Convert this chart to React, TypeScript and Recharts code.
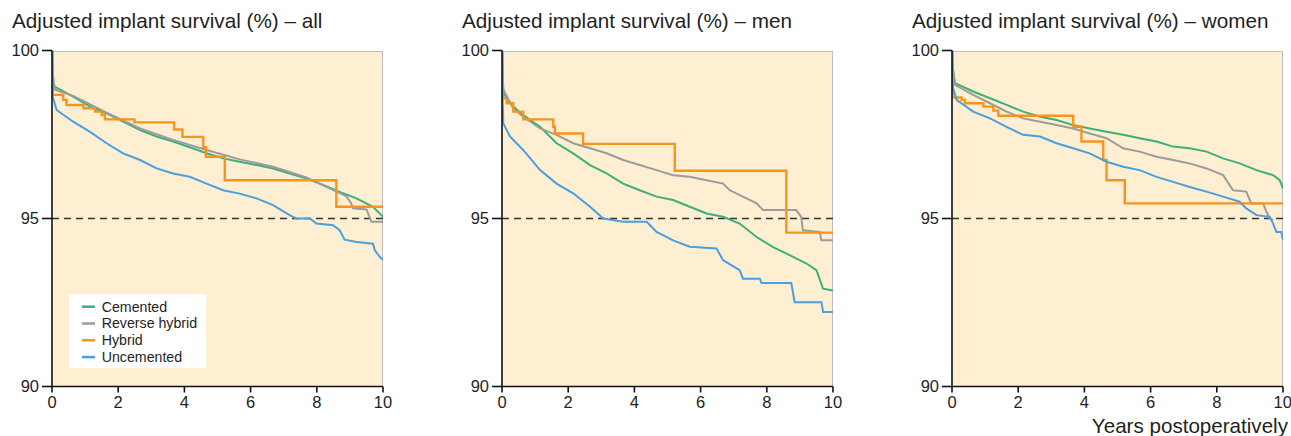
import React from 'react';
import { LineChart, Line, XAxis, YAxis, ReferenceLine } from 'recharts';

type P = { x: number; y: number };

const xTicks = [0, 2, 4, 6, 8, 10];
const yTicks = [90, 95, 100];
const titles = [
  'Adjusted implant survival (%) – all',
  'Adjusted implant survival (%) – men',
  'Adjusted implant survival (%) – women',
];
const seriesNames = ['Cemented', 'Reverse hybrid', 'Hybrid', 'Uncemented'];
const seriesColors = ['#3DB07A', '#9C9C9C', '#F7941D', '#4A9FDD'];
const xLabel = 'Years postoperatively';

// ---------- all ----------
const allCemented: P[] = [
  { x: 0, y: 100 }, { x: 0.02, y: 99.4 }, { x: 0.05, y: 99.0 }, { x: 0.09, y: 98.92 },
  { x: 0.64, y: 98.63 }, { x: 1.15, y: 98.33 }, { x: 1.65, y: 98.13 }, { x: 2.15, y: 97.88 },
  { x: 2.66, y: 97.63 }, { x: 3.16, y: 97.44 }, { x: 3.66, y: 97.29 }, { x: 4.16, y: 97.12 },
  { x: 4.67, y: 96.94 }, { x: 5.17, y: 96.79 }, { x: 5.67, y: 96.69 }, { x: 6.18, y: 96.59 },
  { x: 6.68, y: 96.49 }, { x: 7.18, y: 96.34 }, { x: 7.69, y: 96.19 }, { x: 8.19, y: 96.0 },
  { x: 8.69, y: 95.79 }, { x: 9.2, y: 95.6 }, { x: 9.7, y: 95.35 }, { x: 10, y: 95.05 },
];
const allReverse: P[] = [
  { x: 0, y: 100 }, { x: 0.02, y: 99.4 }, { x: 0.05, y: 99.0 }, { x: 0.09, y: 98.83 },
  { x: 0.64, y: 98.65 }, { x: 1.65, y: 98.15 }, { x: 2.66, y: 97.68 }, { x: 3.66, y: 97.34 },
  { x: 4.67, y: 97.04 }, { x: 5.67, y: 96.76 }, { x: 6.68, y: 96.54 }, { x: 7.69, y: 96.22 },
  { x: 8.29, y: 95.94 }, { x: 8.89, y: 95.67 }, { x: 9.04, y: 95.45 }, { x: 9.09, y: 95.3 },
  { x: 9.5, y: 95.27 }, { x: 9.65, y: 94.9 }, { x: 10, y: 94.9 },
];
const allHybrid: P[] = [
  { x: 0, y: 100 }, { x: 0.02, y: 98.68 }, { x: 0.34, y: 98.53 }, { x: 0.44, y: 98.38 },
  { x: 0.95, y: 98.28 }, { x: 1.3, y: 98.18 }, { x: 1.5, y: 98.08 }, { x: 1.6, y: 97.95 },
  { x: 2.49, y: 97.86 }, { x: 3.69, y: 97.65 }, { x: 3.94, y: 97.43 }, { x: 4.57, y: 97.12 },
  { x: 4.65, y: 96.84 }, { x: 5.22, y: 96.14 }, { x: 8.59, y: 95.35 }, { x: 10, y: 95.35 },
];
const allUncemented: P[] = [
  { x: 0, y: 100 }, { x: 0.02, y: 98.63 }, { x: 0.14, y: 98.23 }, { x: 0.64, y: 97.88 },
  { x: 1.15, y: 97.58 }, { x: 1.65, y: 97.24 }, { x: 2.15, y: 96.94 }, { x: 2.66, y: 96.74 },
  { x: 3.16, y: 96.49 }, { x: 3.66, y: 96.34 }, { x: 4.16, y: 96.24 }, { x: 4.67, y: 96.04 },
  { x: 5.17, y: 95.84 }, { x: 5.67, y: 95.74 }, { x: 6.18, y: 95.6 }, { x: 6.68, y: 95.4 },
  { x: 7.18, y: 95.1 }, { x: 7.38, y: 95.0 }, { x: 7.79, y: 95.0 }, { x: 7.99, y: 94.85 },
  { x: 8.49, y: 94.8 }, { x: 8.69, y: 94.65 }, { x: 8.84, y: 94.37 }, { x: 9.2, y: 94.3 },
  { x: 9.7, y: 94.25 }, { x: 9.75, y: 94.06 }, { x: 9.9, y: 93.86 }, { x: 10, y: 93.76 },
];

// ---------- men ----------
const menCemented: P[] = [
  { x: 0, y: 100 }, { x: 0.02, y: 99.3 }, { x: 0.04, y: 98.73 }, { x: 0.34, y: 98.33 },
  { x: 0.64, y: 98.08 }, { x: 1.15, y: 97.73 }, { x: 1.65, y: 97.24 }, { x: 2.15, y: 96.94 },
  { x: 2.66, y: 96.59 }, { x: 3.16, y: 96.34 }, { x: 3.66, y: 96.04 }, { x: 4.16, y: 95.84 },
  { x: 4.67, y: 95.65 }, { x: 5.17, y: 95.55 }, { x: 5.67, y: 95.35 }, { x: 6.18, y: 95.15 },
  { x: 6.68, y: 95.05 }, { x: 7.18, y: 94.85 }, { x: 7.69, y: 94.45 }, { x: 8.19, y: 94.15 },
  { x: 8.69, y: 93.91 }, { x: 9.2, y: 93.66 }, { x: 9.5, y: 93.46 }, { x: 9.7, y: 92.91 },
  { x: 10, y: 92.86 },
];
const menReverse: P[] = [
  { x: 0, y: 100 }, { x: 0.02, y: 99.3 }, { x: 0.04, y: 98.83 }, { x: 0.34, y: 98.28 },
  { x: 0.64, y: 98.03 }, { x: 1.15, y: 97.68 }, { x: 1.65, y: 97.49 }, { x: 2.15, y: 97.24 },
  { x: 2.66, y: 97.09 }, { x: 3.16, y: 96.94 }, { x: 3.66, y: 96.74 }, { x: 4.16, y: 96.59 },
  { x: 4.67, y: 96.44 }, { x: 5.17, y: 96.29 }, { x: 5.67, y: 96.24 }, { x: 6.18, y: 96.14 },
  { x: 6.68, y: 96.04 }, { x: 6.88, y: 95.84 }, { x: 7.28, y: 95.65 }, { x: 7.69, y: 95.45 },
  { x: 7.89, y: 95.25 }, { x: 8.89, y: 95.25 }, { x: 9.04, y: 95.05 }, { x: 9.09, y: 94.65 },
  { x: 9.6, y: 94.6 }, { x: 9.65, y: 94.35 }, { x: 10, y: 94.35 },
];
const menHybrid: P[] = [
  { x: 0, y: 100 }, { x: 0.02, y: 98.58 }, { x: 0.14, y: 98.43 }, { x: 0.34, y: 98.18 },
  { x: 0.64, y: 97.95 }, { x: 1.55, y: 97.73 }, { x: 1.6, y: 97.53 }, { x: 2.45, y: 97.22 },
  { x: 5.22, y: 96.42 }, { x: 8.59, y: 94.58 }, { x: 10, y: 94.58 },
];
const menUncemented: P[] = [
  { x: 0, y: 100 }, { x: 0.02, y: 98.53 }, { x: 0.04, y: 97.83 }, { x: 0.24, y: 97.44 },
  { x: 0.64, y: 97.04 }, { x: 1.15, y: 96.44 }, { x: 1.65, y: 96.04 }, { x: 2.15, y: 95.75 },
  { x: 2.66, y: 95.35 }, { x: 3.06, y: 95.0 }, { x: 3.66, y: 94.9 }, { x: 4.37, y: 94.9 },
  { x: 4.67, y: 94.6 }, { x: 5.17, y: 94.35 }, { x: 5.67, y: 94.16 }, { x: 6.48, y: 94.11 },
  { x: 6.68, y: 93.76 }, { x: 7.18, y: 93.46 }, { x: 7.28, y: 93.21 }, { x: 7.79, y: 93.21 },
  { x: 7.84, y: 93.08 }, { x: 8.74, y: 93.08 }, { x: 8.84, y: 92.51 }, { x: 9.65, y: 92.51 },
  { x: 9.7, y: 92.22 }, { x: 10, y: 92.22 },
];

// ---------- women ----------
const womenCemented: P[] = [
  { x: 0, y: 100 }, { x: 0.02, y: 99.5 }, { x: 0.09, y: 99.03 }, { x: 0.64, y: 98.78 },
  { x: 1.15, y: 98.58 }, { x: 1.65, y: 98.38 }, { x: 2.15, y: 98.18 }, { x: 2.66, y: 98.03 },
  { x: 3.16, y: 97.93 }, { x: 3.66, y: 97.78 }, { x: 4.16, y: 97.68 }, { x: 4.67, y: 97.58 },
  { x: 5.17, y: 97.49 }, { x: 5.67, y: 97.39 }, { x: 6.18, y: 97.29 }, { x: 6.68, y: 97.14 },
  { x: 7.18, y: 97.09 }, { x: 7.69, y: 96.99 }, { x: 8.19, y: 96.79 }, { x: 8.69, y: 96.64 },
  { x: 9.2, y: 96.44 }, { x: 9.7, y: 96.29 }, { x: 9.9, y: 96.14 }, { x: 10, y: 95.89 },
];
const womenReverse: P[] = [
  { x: 0, y: 100 }, { x: 0.02, y: 99.5 }, { x: 0.09, y: 98.98 }, { x: 0.64, y: 98.68 },
  { x: 1.15, y: 98.43 }, { x: 1.65, y: 98.18 }, { x: 2.15, y: 97.98 }, { x: 2.66, y: 97.88 },
  { x: 3.16, y: 97.78 }, { x: 3.66, y: 97.68 }, { x: 4.16, y: 97.53 }, { x: 4.67, y: 97.39 },
  { x: 5.17, y: 97.09 }, { x: 5.67, y: 96.99 }, { x: 6.18, y: 96.84 }, { x: 6.68, y: 96.74 },
  { x: 7.18, y: 96.64 }, { x: 7.69, y: 96.49 }, { x: 8.19, y: 96.29 }, { x: 8.49, y: 95.84 },
  { x: 8.89, y: 95.8 }, { x: 9.04, y: 95.45 }, { x: 9.4, y: 95.45 }, { x: 9.5, y: 95.2 },
  { x: 9.6, y: 95.0 }, { x: 9.7, y: 94.95 },
];
const womenHybrid: P[] = [
  { x: 0, y: 100 }, { x: 0.02, y: 98.6 }, { x: 0.29, y: 98.53 }, { x: 0.39, y: 98.43 },
  { x: 0.95, y: 98.33 }, { x: 1.25, y: 98.21 }, { x: 1.4, y: 98.06 }, { x: 3.66, y: 97.73 },
  { x: 3.91, y: 97.29 }, { x: 4.57, y: 96.74 }, { x: 4.67, y: 96.14 }, { x: 5.22, y: 95.45 },
  { x: 10, y: 95.45 },
];
const womenUncemented: P[] = [
  { x: 0, y: 100 }, { x: 0.02, y: 98.93 }, { x: 0.14, y: 98.53 }, { x: 0.64, y: 98.18 },
  { x: 1.15, y: 97.98 }, { x: 1.65, y: 97.73 }, { x: 2.15, y: 97.49 }, { x: 2.66, y: 97.44 },
  { x: 3.16, y: 97.24 }, { x: 3.66, y: 97.09 }, { x: 4.16, y: 96.94 }, { x: 4.67, y: 96.69 },
  { x: 5.17, y: 96.54 }, { x: 5.67, y: 96.44 }, { x: 6.18, y: 96.24 }, { x: 6.68, y: 96.09 },
  { x: 7.18, y: 95.94 }, { x: 7.69, y: 95.8 }, { x: 8.19, y: 95.65 }, { x: 8.69, y: 95.5 },
  { x: 8.89, y: 95.3 }, { x: 9.2, y: 95.1 }, { x: 9.6, y: 95.05 }, { x: 9.7, y: 94.85 },
  { x: 9.8, y: 94.6 }, { x: 9.95, y: 94.6 }, { x: 10, y: 94.35 },
];

const panels = [
  { title: titles[0], series: [allCemented, allReverse, allHybrid, allUncemented] },
  { title: titles[1], series: [menCemented, menReverse, menHybrid, menUncemented] },
  { title: titles[2], series: [womenCemented, womenReverse, womenHybrid, womenUncemented] },
];

const FONT = '"Liberation Sans", Arial, Helvetica, sans-serif';
const TEXT = '#231F20';
const BG = '#FEEFD3';

function Panel({ left, width, series }: { left: number; width: number; series: P[][] }) {
  return (
    <div style={{ position: 'absolute', left, top: 0 }}>
      <LineChart
        width={width}
        height={436}
        margin={{ top: 50.5, right: width - 383, bottom: 19.5, left: 12 }}
        style={{ fontFamily: FONT }}
      >
        <XAxis
          type="number"
          dataKey="x"
          domain={[0, 10]}
          ticks={xTicks}
          allowDataOverflow
          height={30}
          tickSize={6}
          tickMargin={4}
          axisLine={{ stroke: '#111', strokeWidth: 1.6 }}
          tickLine={{ stroke: '#111', strokeWidth: 1.6 }}
          tick={{ fill: TEXT, fontSize: 16.5 }}
        />
        <YAxis
          type="number"
          domain={[90, 100]}
          ticks={yTicks}
          allowDataOverflow
          width={40}
          tickSize={10}
          tickMargin={3}
          axisLine={{ stroke: '#111', strokeWidth: 1.6 }}
          tickLine={{ stroke: '#111', strokeWidth: 1.6 }}
          tick={{ fill: TEXT, fontSize: 16.5 }}
        />
        <ReferenceLine y={95} stroke="#333" strokeDasharray="7 5" strokeWidth={1.4} />
        {series.map((d, i) => (
          <Line
            key={i}
            data={d}
            dataKey="y"
            type={i === 2 ? 'stepAfter' : 'linear'}
            stroke={seriesColors[i]}
            strokeWidth={i === 2 ? 2.4 : 2}
            dot={false}
            activeDot={false}
            isAnimationActive={false}
          />
        ))}
      </LineChart>
    </div>
  );
}

function Background({ left }: { left: number }) {
  return (
    <div
      style={{
        position: 'absolute',
        left: left + 52,
        top: 50.5,
        width: 331,
        height: 336,
        background: BG,
        borderTop: '1.5px solid #BDBDBD',
        borderRight: '1.5px solid #BDBDBD',
        boxSizing: 'border-box',
      }}
    />
  );
}

export default function App() {
  const lefts = [0, 450, 900];
  const widths = [440, 440, 391];
  return (
    <div style={{ position: 'absolute', left: 0, top: 0, width: 1291, height: 436, background: '#fff', overflow: 'hidden' }}>
      {lefts.map((l, i) => (
        <Background key={'b' + i} left={l} />
      ))}
      {panels.map((p, i) => (
        <Panel key={i} left={lefts[i]} width={widths[i]} series={p.series} />
      ))}
      <svg width={1291} height={436} style={{ position: 'absolute', left: 0, top: 0, pointerEvents: 'none' }}>
        {panels.map((p, i) => (
          <text key={i} x={lefts[i] + 12} y={28.3} fontFamily={FONT} fontSize={20.7} fill={TEXT}>
            {p.title}
          </text>
        ))}
        <text x={1288} y={433} textAnchor="end" fontFamily={FONT} fontSize={20.6} fill={TEXT}>
          {xLabel}
        </text>
        <rect x={69} y={294} width={137} height={74} fill="#fff" />
        {seriesNames.map((n, i) => (
          <g key={n}>
            <line x1={82} x2={95} y1={306.7 + i * 16.8} y2={306.7 + i * 16.8} stroke={seriesColors[i]} strokeWidth={2.5} />
            <text x={101.7} y={311.7 + i * 16.6} fontFamily={FONT} fontSize={14.2} fill={TEXT}>
              {n}
            </text>
          </g>
        ))}
      </svg>
    </div>
  );
}
